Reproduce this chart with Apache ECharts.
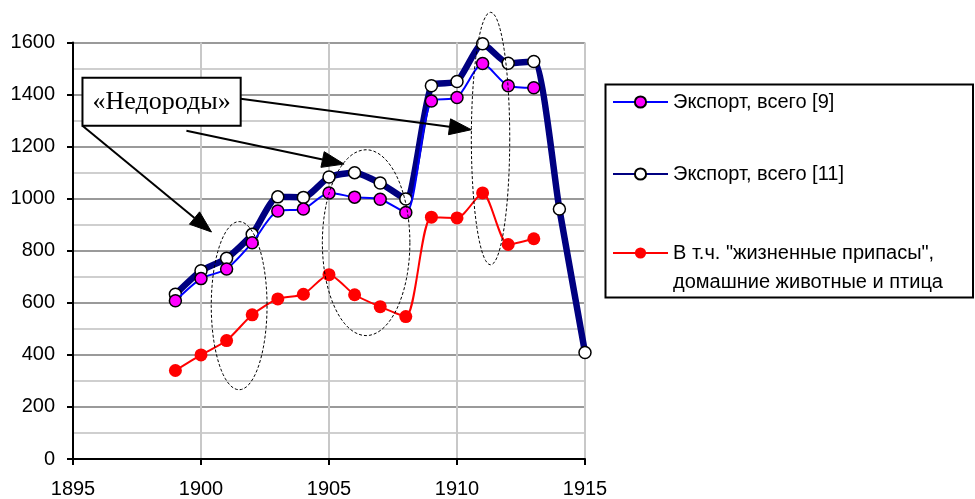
<!DOCTYPE html>
<html>
<head>
<meta charset="utf-8">
<script src="https://cdn.jsdelivr.net/npm/echarts@6/dist/echarts.min.js"></script>
<style>
html, body { margin: 0; padding: 0; background: #fff; }
#chart { width: 975px; height: 499px; }
</style>
</head>
<body>
<div id="chart"></div>
<script>
// years and values
var years = [1899, 1900, 1901, 1902, 1903, 1904, 1905, 1906, 1907, 1908, 1909, 1910, 1911, 1912, 1913];
var yearsLong = [1899, 1900, 1901, 1902, 1903, 1904, 1905, 1906, 1907, 1908, 1909, 1910, 1911, 1912, 1913, 1914, 1915];
var export9 = [608, 693, 730, 831, 953, 960, 1022, 1006, 998, 947, 1375, 1389, 1519, 1434, 1426];
var export11 = [633, 723, 771, 863, 1007, 1005, 1083, 1100, 1060, 999, 1434, 1450, 1595, 1520, 1527, 960, 409];
var food = [340, 400, 455, 554, 615, 633, 708, 631, 585, 547, 929, 926, 1022, 824, 846];
var seriesNames = ['Экспорт, всего [9]', 'Экспорт, всего [11]', 'В т.ч. "жизненные припасы",\nдомашние животные и птица'];
var noteText = '«Недороды»';

// annotation shapes in data units (year, value)
var noteBox = [1895.37, 1465, 1901.55, 1280];
var arrows = [
  [1895.37, 1280, 1900.41, 872],
  [1899.43, 1261, 1905.59, 1133],
  [1901.55, 1384, 1910.56, 1265]
];
var ellipses = [
  [1901.49, 589, 1.09, 323],
  [1906.45, 831, 1.71, 357],
  [1911.31, 1231, 0.75, 485]
];

function pairs(xs, ys) {
  return xs.map(function (x, i) { return [x, ys[i]]; });
}

var font = 'Liberation Sans, Arial, sans-serif';
var chart = echarts.init(document.getElementById('chart'));

var option = {
  animation: false,
  backgroundColor: '#fff',
  grid: { left: 73, right: 390, top: 42.5, bottom: 40 },
  legend: {
    orient: 'vertical',
    left: 612,
    top: 65.5,
    itemGap: 21,
    itemWidth: 55,
    itemHeight: 14,
    padding: 0,
    textStyle: { fontFamily: font, fontSize: 20, color: '#000', lineHeight: 29 },
    // empty first line keeps the icon level with the first line of the long name
    formatter: function (name) {
      return name === seriesNames[2] ? ' \n' + name : name;
    },
    data: [
      { name: seriesNames[0], textStyle: { padding: [22, 0, 22, 0] } },
      { name: seriesNames[1] },
      { name: seriesNames[2] }
    ]
  },
  xAxis: {
    type: 'value',
    min: 1895,
    max: 1915,
    interval: 5,
    axisLine: { onZero: false, lineStyle: { color: '#000', width: 2 } },
    axisTick: { show: true, length: 6, lineStyle: { color: '#000', width: 2 } },
    axisLabel: { fontFamily: font, fontSize: 20, color: '#000', margin: 20, formatter: function (v) { return String(v); } },
    splitLine: { show: true, lineStyle: { color: '#c8c8c8', width: 2 } }
  },
  yAxis: {
    type: 'value',
    min: 0,
    max: 1600,
    interval: 200,
    axisLine: { show: true, lineStyle: { color: '#000', width: 2 } },
    axisTick: { show: true, length: 6, lineStyle: { color: '#000', width: 2 } },
    axisLabel: { fontFamily: font, fontSize: 20, color: '#000', margin: 18, formatter: function (v) { return String(v); } },
    splitLine: { show: true, lineStyle: { color: '#9a9a9a', width: 2 } },
    minorTick: { show: false, splitNumber: 2 },
    minorSplitLine: { show: true, lineStyle: { color: '#cfcfcf', width: 2 } }
  },
  series: [
    {
      name: seriesNames[0],
      type: 'line',
      z: 4,
      smooth: 0.25,
      data: pairs(years, export9),
      symbol: 'circle',
      symbolSize: 12,
      lineStyle: { color: '#0000ff', width: 2 },
      itemStyle: { color: '#ff00ff', borderColor: '#000', borderWidth: 1.5 }
    },
    {
      name: seriesNames[1],
      type: 'line',
      z: 3,
      smooth: 0.2,
      data: pairs(yearsLong, export11),
      symbol: 'circle',
      symbolSize: 12,
      lineStyle: { color: '#000080', width: 6.5 },
      itemStyle: { color: '#fff', borderColor: '#000', borderWidth: 1.5 }
    },
    {
      name: seriesNames[2],
      type: 'line',
      z: 5,
      smooth: 0.25,
      data: pairs(years, food),
      symbol: 'circle',
      symbolSize: 13,
      lineStyle: { color: '#ff0000', width: 2 },
      itemStyle: { color: '#ff0000', borderWidth: 0 }
    }
  ]
};

chart.setOption(option);

function px(x, y) {
  return chart.convertToPixel({ gridIndex: 0 }, [x, y]);
}

var graphics = [];

// legend frame
graphics.push({
  type: 'rect',
  shape: { x: 605.5, y: 84.5, width: 367.5, height: 213 },
  style: { fill: null, stroke: '#000', lineWidth: 2 },
  z: 1
});

// dashed ellipses
ellipses.forEach(function (e) {
  var c = px(e[0], e[1]);
  var rx = px(e[0] + e[2], e[1])[0] - c[0];
  var ry = c[1] - px(e[0], e[1] + e[3])[1];
  var pts = [];
  for (var i = 0; i < 72; i++) {
    var a = i / 72 * Math.PI * 2;
    pts.push([c[0] + rx * Math.cos(a), c[1] + ry * Math.sin(a)]);
  }
  graphics.push({
    type: 'polygon',
    shape: { points: pts },
    style: { fill: null, stroke: '#000', lineWidth: 1, lineDash: [3, 2] },
    z: 10
  });
});

// arrows from the note
arrows.forEach(function (a) {
  var p0 = px(a[0], a[1]);
  var p1 = px(a[2], a[3]);
  var dx = p1[0] - p0[0], dy = p1[1] - p0[1];
  var len = Math.sqrt(dx * dx + dy * dy);
  var ux = dx / len, uy = dy / len;
  var headL = 22, headW = 8;
  var bx = p1[0] - ux * headL, by = p1[1] - uy * headL;
  graphics.push({
    type: 'line',
    shape: { x1: p0[0], y1: p0[1], x2: bx, y2: by },
    style: { stroke: '#000', lineWidth: 2 },
    z: 11
  });
  graphics.push({
    type: 'polygon',
    shape: { points: [[p1[0], p1[1]], [bx - uy * headW, by + ux * headW], [bx + uy * headW, by - ux * headW]] },
    style: { fill: '#000', stroke: '#000', lineWidth: 1 },
    z: 11
  });
});

// note box
var b0 = px(noteBox[0], noteBox[1]);
var b1 = px(noteBox[2], noteBox[3]);
graphics.push({
  type: 'rect',
  shape: { x: b0[0], y: b0[1], width: b1[0] - b0[0], height: b1[1] - b0[1] },
  style: { fill: '#fff', stroke: '#000', lineWidth: 2 },
  z: 12
});
graphics.push({
  type: 'text',
  x: (b0[0] + b1[0]) / 2,
  y: (b0[1] + b1[1]) / 2,
  style: {
    text: noteText,
    fontFamily: 'Liberation Serif, Times New Roman, serif',
    fontSize: 26,
    fill: '#000',
    align: 'center',
    verticalAlign: 'middle'
  },
  z: 13
});

chart.setOption({ graphic: graphics });
</script>
</body>
</html>
